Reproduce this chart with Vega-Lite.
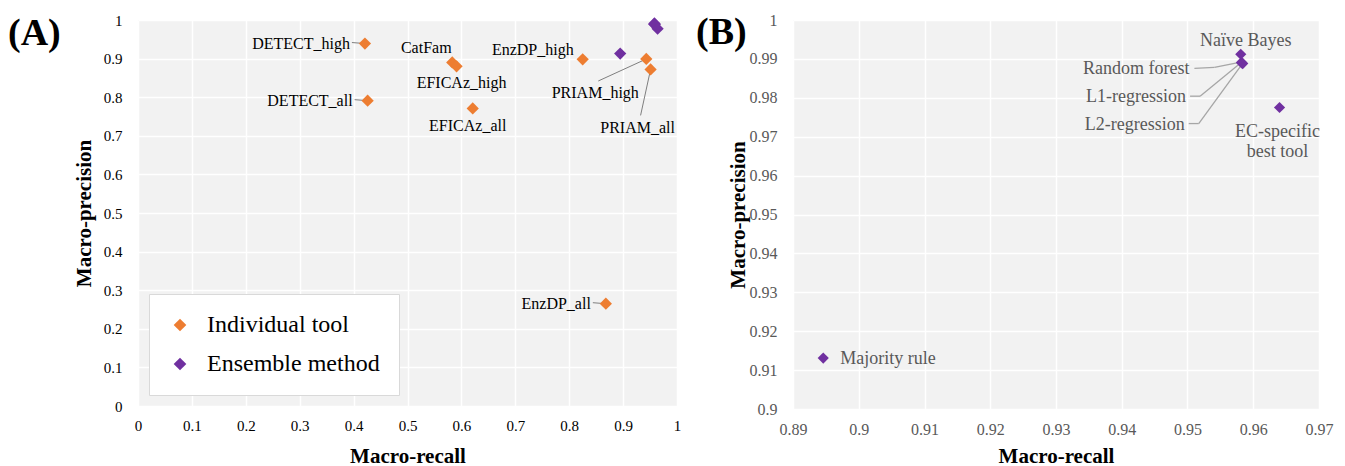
{
  "$schema": "https://vega.github.io/schema/vega-lite/v6.json",
  "background": "white",
  "padding": {"left": 8, "top": 12, "right": 10, "bottom": 2},
  "spacing": 15,
  "resolve": {"scale": {"color": "independent"}, "legend": {"color": "independent"}},
  "config": {
    "font": "Liberation Serif",
    "view": {"stroke": null, "fill": "#F2F2F2"},
    "axis": {
      "domain": false, "ticks": false, "grid": true, "gridColor": "white", "gridWidth": 1.5, "labelFlush": false, "labelOverlap": false,
      "labelFont": "Liberation Serif", "labelFontSize": 15, "labelColor": "black",
      "titleFont": "Liberation Serif", "titleFontSize": 21, "titleFontWeight": "bold", "titleColor": "black"
    },
    "title": {"font": "Liberation Serif", "fontSize": 38, "fontWeight": "bold", "color": "black", "anchor": "start", "frame": "group", "offset": -40},
    "text": {"font": "Liberation Serif", "fontSize": 16}
  },
  "datasets": {
    "tools": [
      {"name": "DETECT_high", "type": "Individual tool", "recall": 0.421, "precision": 0.939},
      {"name": "DETECT_all", "type": "Individual tool", "recall": 0.426, "precision": 0.791},
      {"name": "CatFam", "type": "Individual tool", "recall": 0.583, "precision": 0.890},
      {"name": "EFICAz_high", "type": "Individual tool", "recall": 0.591, "precision": 0.880},
      {"name": "EFICAz_all", "type": "Individual tool", "recall": 0.621, "precision": 0.771},
      {"name": "EnzDP_high", "type": "Individual tool", "recall": 0.825, "precision": 0.898},
      {"name": "EnzDP_all", "type": "Individual tool", "recall": 0.868, "precision": 0.265},
      {"name": "PRIAM_high", "type": "Individual tool", "recall": 0.943, "precision": 0.899},
      {"name": "PRIAM_all", "type": "Individual tool", "recall": 0.951, "precision": 0.872}
    ],
    "ens": [
      {"name": "Majority rule", "label": "Majority rule", "type": "Ensemble method", "recall": 0.8946, "precision": 0.9131},
      {"name": "Naïve Bayes", "label": "Naïve Bayes", "type": "Ensemble method", "recall": 0.9581, "precision": 0.9912},
      {"name": "Random forest", "label": "Random forest", "type": "Ensemble method", "recall": 0.9582, "precision": 0.9891},
      {"name": "L1-regression", "label": "L1-regression", "type": "Ensemble method", "recall": 0.9583, "precision": 0.9889},
      {"name": "L2-regression", "label": "L2-regression", "type": "Ensemble method", "recall": 0.9584, "precision": 0.9888},
      {"name": "EC-specific best tool", "label": "EC-specific|best tool", "type": "Ensemble method", "recall": 0.9640, "precision": 0.9775}
    ]
  },
  "hconcat": [
    {
      "width": 539, "height": 386,
      "title": {"text": "(A)", "dx": -130},
      "encoding": {
        "x": {"field": "recall", "type": "quantitative", "title": "Macro-recall",
              "scale": {"domain": [0, 1], "nice": false, "zero": false},
              "axis": {"values": [0,0.1,0.2,0.3,0.4,0.5,0.6,0.7,0.8,0.9,1], "labelPadding": 12, "titlePadding": 12, "format": "~g"}},
        "y": {"field": "precision", "type": "quantitative", "title": "Macro-precision",
              "scale": {"domain": [0, 1], "nice": false, "zero": false},
              "axis": {"values": [0,0.1,0.2,0.3,0.4,0.5,0.6,0.7,0.8,0.9,1], "labelPadding": 16, "titlePadding": 9, "format": "~g"}}
      },
      "layer": [
        {"data": {"name": "tools"}, "transform": [{"filter": {"field": "name", "oneOf": ["DETECT_high", "DETECT_all", "EnzDP_all"]}}],
         "mark": {"type": "rule", "color": "#7f7f7f", "strokeWidth": 1, "x2Offset": -13, "y2Offset": -1},
         "encoding": {"x2": {"field": "recall"}, "y2": {"field": "precision"}}},
        {"data": {"name": "tools"}, "transform": [{"filter": {"field": "name", "equal": "PRIAM_high"}}],
         "mark": {"type": "rule", "color": "#7f7f7f", "strokeWidth": 1, "x2Offset": -48, "y2Offset": 22},
         "encoding": {"x2": {"field": "recall"}, "y2": {"field": "precision"}}},
        {"data": {"name": "tools"}, "transform": [{"filter": {"field": "name", "equal": "PRIAM_all"}}],
         "mark": {"type": "rule", "color": "#7f7f7f", "strokeWidth": 1, "x2Offset": -10, "y2Offset": 46},
         "encoding": {"x2": {"field": "recall"}, "y2": {"field": "precision"}}},
        {"data": {"name": "tools"},
         "mark": {"type": "point", "shape": "diamond", "filled": true, "opacity": 1, "size": 150},
         "encoding": {"color": {"field": "type", "type": "nominal",
            "scale": {"domain": ["Individual tool", "Ensemble method"], "range": ["#ED7D31", "#7030A0"]},
            "legend": {"title": null, "orient": "bottom-left", "offset": 11, "padding": 19, "symbolType": "diamond", "symbolSize": 160,
                       "symbolOpacity": 1, "labelFont": "Liberation Serif", "labelFontSize": 24, "labelColor": "black", "labelOffset": 15,
                       "rowPadding": 15, "fillColor": "white", "strokeColor": "#d9d9d9", "labelLimit": 300}}}},
        {"data": {"name": "ens"},
         "mark": {"type": "point", "shape": "diamond", "filled": true, "opacity": 1, "size": 150},
         "encoding": {"color": {"field": "type", "type": "nominal"}}},
        {"data": {"name": "tools"}, "transform": [{"filter": {"field": "name", "oneOf": ["DETECT_high", "DETECT_all", "EnzDP_all"]}}],
         "mark": {"type": "text", "align": "right", "baseline": "middle", "dx": -15, "dy": 0, "color": "black"},
         "encoding": {"text": {"field": "name"}}},
        {"data": {"name": "tools"}, "transform": [{"filter": {"field": "name", "equal": "CatFam"}}],
         "mark": {"type": "text", "align": "center", "baseline": "middle", "dx": -26, "dy": -14, "color": "black"},
         "encoding": {"text": {"field": "name"}}},
        {"data": {"name": "tools"}, "transform": [{"filter": {"field": "name", "equal": "EFICAz_high"}}],
         "mark": {"type": "text", "align": "center", "baseline": "middle", "dx": 5, "dy": 17, "color": "black"},
         "encoding": {"text": {"field": "name"}}},
        {"data": {"name": "tools"}, "transform": [{"filter": {"field": "name", "equal": "EFICAz_all"}}],
         "mark": {"type": "text", "align": "center", "baseline": "middle", "dx": -5, "dy": 18, "color": "black"},
         "encoding": {"text": {"field": "name"}}},
        {"data": {"name": "tools"}, "transform": [{"filter": {"field": "name", "equal": "EnzDP_high"}}],
         "mark": {"type": "text", "align": "right", "baseline": "middle", "dx": -9, "dy": -9, "color": "black"},
         "encoding": {"text": {"field": "name"}}},
        {"data": {"name": "tools"}, "transform": [{"filter": {"field": "name", "equal": "PRIAM_high"}}],
         "mark": {"type": "text", "align": "center", "baseline": "middle", "dx": -51, "dy": 34, "color": "black"},
         "encoding": {"text": {"field": "name"}}},
        {"data": {"name": "tools"}, "transform": [{"filter": {"field": "name", "equal": "PRIAM_all"}}],
         "mark": {"type": "text", "align": "center", "baseline": "middle", "dx": -13, "dy": 59, "color": "black"},
         "encoding": {"text": {"field": "name"}}}
      ]
    },
    {
      "width": 526, "height": 389,
      "title": {"text": "(B)", "dx": -97},
      "data": {"name": "ens"},
      "encoding": {
        "x": {"field": "recall", "type": "quantitative", "title": "Macro-recall",
              "scale": {"domain": [0.89, 0.97], "nice": false, "zero": false},
              "axis": {"values": [0.89,0.9,0.91,0.92,0.93,0.94,0.95,0.96,0.97], "labelColor": "#595959", "labelFontSize": 16, "labelPadding": 12, "titlePadding": 8, "format": "~g"}},
        "y": {"field": "precision", "type": "quantitative", "title": "Macro-precision",
              "scale": {"domain": [0.9, 1], "nice": false, "zero": false},
              "axis": {"values": [0.9,0.91,0.92,0.93,0.94,0.95,0.96,0.97,0.98,0.99,1], "labelColor": "#595959", "labelFontSize": 16, "labelPadding": 16, "titlePadding": 1, "format": "~g"}}
      },
      "layer": [
        {"transform": [{"filter": {"field": "name", "equal": "Random forest"}}],
         "mark": {"type": "rule", "color": "#a6a6a6", "strokeWidth": 1.3, "xOffset": -2, "x2Offset": -27, "y2Offset": 5},
         "encoding": {"x2": {"field": "recall"}, "y2": {"field": "precision"}}},
        {"transform": [{"filter": {"field": "name", "equal": "Random forest"}}],
         "mark": {"type": "rule", "color": "#a6a6a6", "strokeWidth": 1.3, "xOffset": -27, "yOffset": 5, "x2Offset": -47, "y2Offset": 6},
         "encoding": {"x2": {"field": "recall"}, "y2": {"field": "precision"}}},
        {"transform": [{"filter": {"field": "name", "equal": "L1-regression"}}],
         "mark": {"type": "rule", "color": "#a6a6a6", "strokeWidth": 1.3, "xOffset": -3, "yOffset": 1, "x2Offset": -42, "y2Offset": 33},
         "encoding": {"x2": {"field": "recall"}, "y2": {"field": "precision"}}},
        {"transform": [{"filter": {"field": "name", "equal": "L1-regression"}}],
         "mark": {"type": "rule", "color": "#a6a6a6", "strokeWidth": 1.3, "xOffset": -42, "yOffset": 33, "x2Offset": -52, "y2Offset": 33},
         "encoding": {"x2": {"field": "recall"}, "y2": {"field": "precision"}}},
        {"transform": [{"filter": {"field": "name", "equal": "L2-regression"}}],
         "mark": {"type": "rule", "color": "#a6a6a6", "strokeWidth": 1.3, "xOffset": -1, "yOffset": 1, "x2Offset": -44, "y2Offset": 60},
         "encoding": {"x2": {"field": "recall"}, "y2": {"field": "precision"}}},
        {"transform": [{"filter": {"field": "name", "equal": "L2-regression"}}],
         "mark": {"type": "rule", "color": "#a6a6a6", "strokeWidth": 1.3, "xOffset": -44, "yOffset": 60, "x2Offset": -54, "y2Offset": 60},
         "encoding": {"x2": {"field": "recall"}, "y2": {"field": "precision"}}},
        {"mark": {"type": "point", "shape": "diamond", "filled": true, "opacity": 1, "size": 125, "color": "#7030A0"}},
        {"transform": [{"filter": {"field": "name", "equal": "Naïve Bayes"}}],
         "mark": {"type": "text", "align": "center", "baseline": "middle", "dx": 5, "dy": -13, "fontSize": 18, "color": "#595959"},
         "encoding": {"text": {"field": "label"}}},
        {"transform": [{"filter": {"field": "name", "equal": "Majority rule"}}],
         "mark": {"type": "text", "align": "left", "baseline": "middle", "dx": 17, "dy": 1, "fontSize": 18, "color": "#595959"},
         "encoding": {"text": {"field": "label"}}},
        {"transform": [{"filter": {"field": "name", "equal": "Random forest"}}],
         "mark": {"type": "text", "align": "right", "baseline": "middle", "dx": -52, "dy": 7, "fontSize": 18, "color": "#595959"},
         "encoding": {"text": {"field": "label"}}},
        {"transform": [{"filter": {"field": "name", "equal": "L1-regression"}}],
         "mark": {"type": "text", "align": "right", "baseline": "middle", "dx": -56, "dy": 34, "fontSize": 18, "color": "#595959"},
         "encoding": {"text": {"field": "label"}}},
        {"transform": [{"filter": {"field": "name", "equal": "L2-regression"}}],
         "mark": {"type": "text", "align": "right", "baseline": "middle", "dx": -58, "dy": 61, "fontSize": 18, "color": "#595959"},
         "encoding": {"text": {"field": "label"}}},
        {"transform": [{"filter": {"field": "name", "equal": "EC-specific best tool"}}],
         "mark": {"type": "text", "align": "center", "baseline": "top", "dx": -2, "dy": 15, "fontSize": 18, "color": "#595959", "lineHeight": 20, "lineBreak": "|"},
         "encoding": {"text": {"field": "label"}}}
      ]
    }
  ]
}
